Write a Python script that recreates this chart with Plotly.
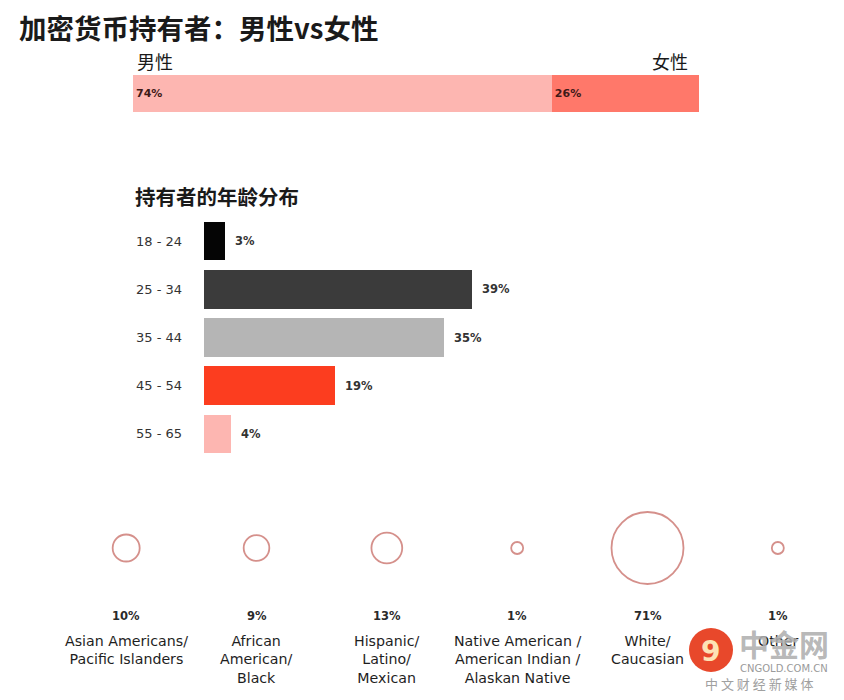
import plotly.graph_objects as go

# 页面 body 有 8px 默认边距，所以画布缩小 8px 并平移坐标
W, H = 836, 692
OFF = 8


def px(x):
    return (x - OFF) / W


def py(y):
    return 1 - (y - OFF) / H


# 数据
title = "加密货币持有者：男性vs女性"

gender_labels = ["男性", "女性"]
gender_share = [74, 26]
gender_colors = ["#fdb6b1", "#ff786a"]

age_title = "持有者的年龄分布"
age_groups = ["18-24", "25-34", "35-44", "45-54", "55-65"]
age_share = [3, 39, 35, 19, 4]
age_colors = ["#050505", "#3b3b3b", "#b5b5b5", "#fc3d1f", "#fdb6b1"]

ethnic_groups = ["Asian Americans/<br>Pacific Islanders",
                 "African<br>American/<br>Black",
                 "Hispanic/<br>Latino/<br>Mexican",
                 "Native American /<br>American Indian /<br>Alaskan Native",
                 "White/<br>Caucasian",
                 "Other"]
ethnic_share = [10, 9, 13, 1, 71, 1]

CJK = "Noto Sans CJK SC"
LAT = "DejaVu Sans, sans-serif"

fig = go.Figure()

# 性别比例
for name, val, col in zip(gender_labels, gender_share, gender_colors):
    fig.add_trace(go.Bar(
        x=[val], y=["g"], orientation="h", width=1, name=name,
        marker=dict(color=col, line=dict(width=0)),
        text=[f"<b>{val}%</b>"], textposition="inside", insidetextanchor="start",
        textfont=dict(family=LAT, size=11, color="#3e1a18"),
        xaxis="x", yaxis="y", showlegend=False, hoverinfo="skip"))

# 年龄分布
fig.add_trace(go.Bar(
    x=age_share, y=age_groups, orientation="h", width=0.8,
    marker=dict(color=age_colors, line=dict(width=0)),
    xaxis="x2", yaxis="y2", showlegend=False, hoverinfo="skip"))

# 族裔分布
fig.add_trace(go.Scatter(
    x=ethnic_groups, y=[0] * len(ethnic_groups), mode="markers",
    marker=dict(size=ethnic_share, sizemode="area", sizeref=71 / 2 / 36 ** 2,
                sizemin=6, color="rgba(255,255,255,0)",
                line=dict(color="#c4625b", width=1.8)),
    xaxis="x3", yaxis="y3", showlegend=False, hoverinfo="skip"))

hidden = dict(visible=False, showgrid=False, zeroline=False, fixedrange=True)

fig.update_layout(
    width=W, height=H,
    margin=dict(l=0, r=0, t=0, b=0),
    paper_bgcolor="white", plot_bgcolor="white",
    barmode="stack",
    xaxis=dict(domain=[px(133), px(699)], range=[0, 100], **hidden),
    yaxis=dict(domain=[py(112), py(75)], range=[-0.5, 0.5], **hidden),
    xaxis2=dict(domain=[px(204), px(744)], range=[0, 540 / 6.87], anchor="y2", **hidden),
    yaxis2=dict(domain=[py(458), py(217)], range=[4.5, -0.5], anchor="x2",
                type="category", **hidden),
    xaxis3=dict(domain=[px(61), px(843)], range=[-0.5, 5.5], anchor="y3",
                type="category", **hidden),
    yaxis3=dict(domain=[py(600), py(496)], range=[-1, 1], anchor="x3", **hidden),
)

ann = []
ann.append(dict(text=f"<b>{title}</b>", x=px(17), y=py(27), xref="paper", yref="paper",
                xanchor="left", yanchor="middle", showarrow=False,
                font=dict(family=CJK, size=27.5, color="#1a1a1a")))
ann.append(dict(text=gender_labels[0], x=px(135), y=py(61), xref="paper", yref="paper",
                xanchor="left", yanchor="middle", showarrow=False,
                font=dict(family=CJK, size=18, color="#1a1a1a")))
ann.append(dict(text=gender_labels[1], x=px(690), y=py(61), xref="paper", yref="paper",
                xanchor="right", yanchor="middle", showarrow=False,
                font=dict(family=CJK, size=18, color="#1a1a1a")))
ann.append(dict(text=f"<b>{age_title}</b>", x=px(133), y=py(196), xref="paper", yref="paper",
                xanchor="left", yanchor="middle", showarrow=False,
                font=dict(family=CJK, size=20.5, color="#1a1a1a")))

for g, v in zip(age_groups, age_share):
    ann.append(dict(text=g.replace("-", " - "), x=px(134), y=g, xref="paper", yref="y2",
                    xanchor="left", yanchor="middle", showarrow=False,
                    font=dict(family=LAT, size=13, color="#333333")))
    ann.append(dict(text=f"<b>{v}%</b>", x=v, y=g, xref="x2", yref="y2", xshift=8,
                    xanchor="left", yanchor="middle", showarrow=False,
                    font=dict(family=LAT, size=11.5, color="#333333")))

for g, v in zip(ethnic_groups, ethnic_share):
    ann.append(dict(text=f"<b>{v}%</b>", x=g, y=py(616), xref="x3", yref="paper",
                    xanchor="center", yanchor="middle", showarrow=False,
                    font=dict(family=LAT, size=11.5, color="#2a2a2a")))
    ann.append(dict(text=g, x=g, y=py(631), xref="x3", yref="paper",
                    xanchor="center", yanchor="top", showarrow=False,
                    font=dict(family=LAT, size=14.2, color="#1e1e1e")))

# 水印
ann.append(dict(text="<b>中金网</b>", x=px(784), y=py(643), xref="paper", yref="paper",
                xanchor="center", yanchor="middle", showarrow=False,
                font=dict(family=CJK, size=30, color="rgba(175,175,175,0.9)")))
ann.append(dict(text="CNGOLD.COM.CN", x=px(784), y=py(668), xref="paper", yref="paper",
                xanchor="center", yanchor="middle", showarrow=False,
                font=dict(family=LAT, size=10, color="#9a9a9a")))
ann.append(dict(text="中 文 财 经 新 媒 体", x=px(759), y=py(683), xref="paper", yref="paper",
                xanchor="center", yanchor="middle", showarrow=False,
                font=dict(family=CJK, size=13, color="#a0a0a0")))
ann.append(dict(text="<b>9</b>", x=px(710), y=py(651), xref="paper", yref="paper",
                xanchor="center", yanchor="middle", showarrow=False,
                font=dict(family=LAT, size=28, color="#fde3b5")))

fig.update_layout(
    annotations=ann,
    shapes=[dict(type="circle", xref="paper", yref="paper",
                 x0=px(689), x1=px(733), y0=py(672), y1=py(628),
                 fillcolor="#e8482b", line=dict(width=0), layer="above")],
)

fig.write_html("out.html")
